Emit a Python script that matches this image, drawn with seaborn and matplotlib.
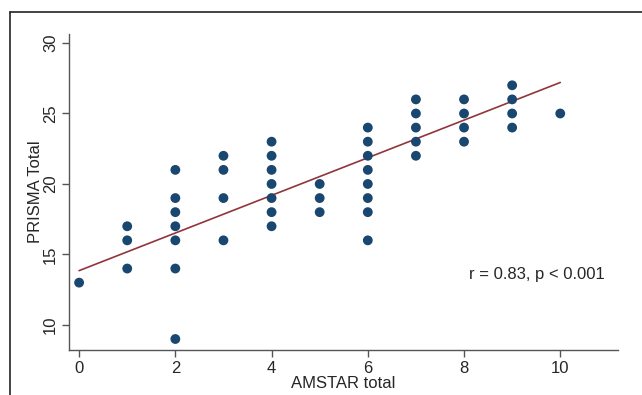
import matplotlib.pyplot as plt
import seaborn as sns
import pandas as pd
from matplotlib.lines import Line2D

# AMSTAR vs PRISMA scores
amstar = [0,
          1, 1, 1,
          2, 2, 2, 2, 2, 2, 2,
          3, 3, 3, 3,
          4, 4, 4, 4, 4, 4, 4,
          5, 5, 5,
          6, 6, 6, 6, 6, 6, 6, 6,
          7, 7, 7, 7, 7,
          8, 8, 8, 8,
          9, 9, 9, 9,
          10]
prisma = [13,
          14, 16, 17,
          9, 14, 16, 17, 18, 19, 21,
          16, 19, 21, 22,
          17, 18, 19, 20, 21, 22, 23,
          18, 19, 20,
          16, 18, 19, 20, 21, 22, 23, 24,
          22, 23, 24, 25, 26,
          23, 24, 25, 26,
          24, 25, 26, 27,
          25]

# fitted line as drawn in the figure
fit_x = [0, 10]
fit_y = [13.85, 27.2]

x_ticks = [0, 2, 4, 6, 8, 10]
y_ticks = [10, 15, 20, 25, 30]

df = pd.DataFrame({'AMSTAR total': amstar, 'PRISMA Total': prisma})
fit = pd.DataFrame({'x': fit_x, 'y': fit_y})

sns.set_style('ticks')
plt.rcParams['font.family'] = ['Liberation Sans', 'DejaVu Sans']

fig = plt.figure(figsize=(6.42, 3.95), dpi=100)
ax = fig.add_axes([69 / 642, 1 - 350 / 395, (618 - 69) / 642, (350 - 34) / 395])

sns.scatterplot(data=df, x='AMSTAR total', y='PRISMA Total', ax=ax,
                color='#1a476f', s=50, edgecolor='none', zorder=3)
sns.lineplot(data=fit, x='x', y='y', ax=ax, color='#90353b', linewidth=1.2, zorder=2)

ax.set_xlim(-0.21, 11.2)
ax.set_ylim(8.22, 30.64)
ax.set_xticks(x_ticks)
ax.set_yticks(y_ticks)
ax.tick_params(labelsize=12, length=5, width=1, color='#555555', pad=3)
for lbl in ax.get_yticklabels():
    lbl.set_rotation(90)
    lbl.set_va('center')
sns.despine(ax=ax)
for sp in ['left', 'bottom']:
    ax.spines[sp].set_color('#555555')
    ax.spines[sp].set_linewidth(1)

ax.set_xlabel('AMSTAR total', fontsize=12, labelpad=0)
ax.set_ylabel('PRISMA Total', fontsize=12, labelpad=0)

ax.text(8.1, 13.6, 'r = 0.83, p < 0.001', fontsize=12, va='center', ha='left')

# outer frame (top and left edges visible)
fig.add_artist(Line2D([10 / 642, 1], [1 - 12 / 395, 1 - 12 / 395], color='#222222', linewidth=1.2))
fig.add_artist(Line2D([10 / 642, 10 / 642], [0, 1 - 12 / 395], color='#222222', linewidth=1.2))

fig.savefig('out.png', dpi=100)
